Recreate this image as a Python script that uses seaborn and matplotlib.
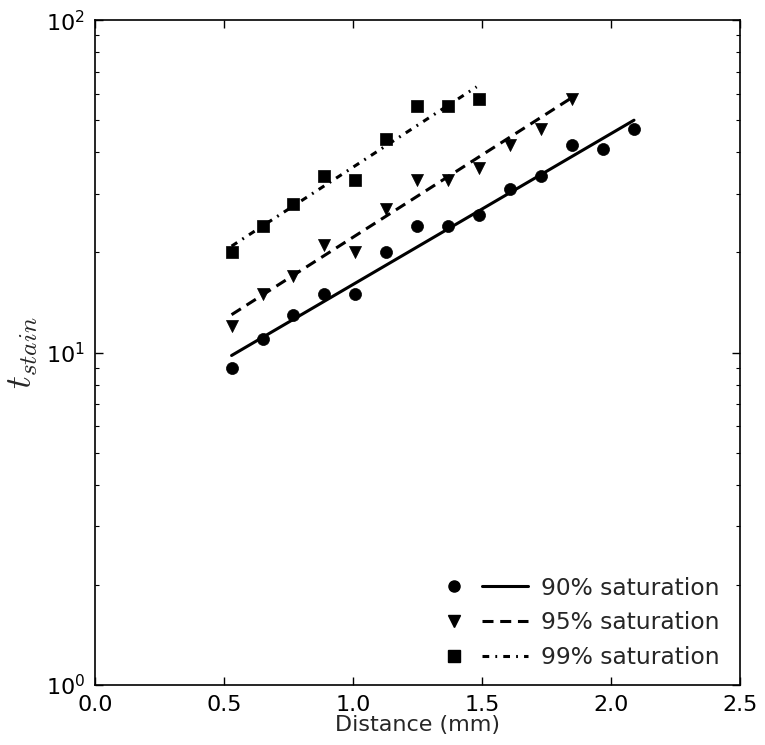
import matplotlib
matplotlib.use("Agg")
import matplotlib.pyplot as plt
import seaborn as sns
import pandas as pd
from matplotlib.lines import Line2D
from matplotlib.legend_handler import HandlerBase

# ---- data ----
x90 = [0.53, 0.65, 0.77, 0.89, 1.01, 1.13, 1.25, 1.37, 1.49, 1.61, 1.73, 1.85, 1.97, 2.09]
t90 = [9, 11, 13, 15, 15, 20, 24, 24, 26, 31, 34, 42, 41, 47]
x95 = [0.53, 0.65, 0.77, 0.89, 1.01, 1.13, 1.25, 1.37, 1.49, 1.61, 1.73, 1.85]
t95 = [12, 15, 17, 21, 20, 27, 33, 33, 36, 42, 47, 58]
x99 = [0.53, 0.65, 0.77, 0.89, 1.01, 1.13, 1.25, 1.37, 1.49]
t99 = [20, 24, 28, 34, 33, 44, 55, 55, 58]

# fitted lines (end points, straight on log scale)
fx90 = [0.53, 2.09]
fy90 = [9.8, 50.0]
fx95 = [0.53, 1.85]
fy95 = [13.0, 58.5]
fx99 = [0.53, 1.48]
fy99 = [20.9, 63.0]

labels = ["90% saturation", "95% saturation", "99% saturation"]
markers = ["o", "v", "s"]
dash_styles = [None, (3.6, 2.2), (2.2, 2.0, 0.6, 2.0)]

sns.set_style("ticks")
plt.rcParams["font.family"] = ["DejaVu Sans"]
plt.rcParams["mathtext.fontset"] = "cm"

fig = plt.figure(figsize=(7.65, 7.45), dpi=100)
ax = fig.add_axes([0.124, 0.0805, 0.843, 0.8925])

series = [(x90, t90, fx90, fy90), (x95, t95, fx95, fy95), (x99, t99, fx99, fy99)]
handles = []
for (xs, ys, fx, fy), lab, mk, ds in zip(series, labels, markers, dash_styles):
    sns.scatterplot(x=xs, y=ys, marker=mk, color="black", edgecolor="black",
                    s=75 if mk != "s" else 80, linewidth=0.5, ax=ax, zorder=3)
    sns.lineplot(x=fx, y=fy, color="black", linewidth=2.2, errorbar=None, ax=ax, zorder=2)
    ln = ax.get_lines()[-1]
    if ds is not None:
        ln.set_dashes(ds)
    mh = Line2D([], [], marker=mk, linestyle="none", color="black", markersize=8)
    lh = Line2D([], [], color="black", linewidth=2.2)
    if ds is not None:
        lh.set_dashes(ds)
    handles.append((mh, lh))


class MarkerThenLine(HandlerBase):
    def create_artists(self, legend, orig_handle, xdescent, ydescent, width,
                       height, fontsize, trans):
        mh, lh = orig_handle
        y = height / 2.0 - ydescent
        m = Line2D([-xdescent + 0.13 * width], [y])
        m.update_from(mh)
        l = Line2D([-xdescent + 0.46 * width, -xdescent + width], [y, y])
        l.update_from(lh)
        m.set_transform(trans)
        l.set_transform(trans)
        return [m, l]


ax.set_yscale("log")
ax.set_ylim(1, 100)
ax.set_xlim(0, 2.5)
ax.set_xticks([0.0, 0.5, 1.0, 1.5, 2.0, 2.5])
ax.set_xticklabels(["0.0", "0.5", "1.0", "1.5", "2.0", "2.5"])

ax.tick_params(which="both", direction="in", top=True, right=True, colors="black",
               labelsize=16, pad=7)
ax.tick_params(which="major", length=6, width=1)
ax.tick_params(which="minor", length=3, width=0.8)
for sp in ax.spines.values():
    sp.set_linewidth(1.2)
    sp.set_color("black")

ax.set_xlabel("Distance (mm)", fontsize=16, labelpad=0)
ax.set_ylabel(r"$t_{stain}$", fontsize=26, labelpad=4)

ax.legend(handles, labels, handler_map={tuple: MarkerThenLine()},
          loc="lower right", bbox_to_anchor=(0.996, -0.002), frameon=False,
          fontsize=16.8, handlelength=3.65, handletextpad=0.55,
          labelspacing=0.5, borderaxespad=0.35)

fig.savefig("out.png", dpi=100)
